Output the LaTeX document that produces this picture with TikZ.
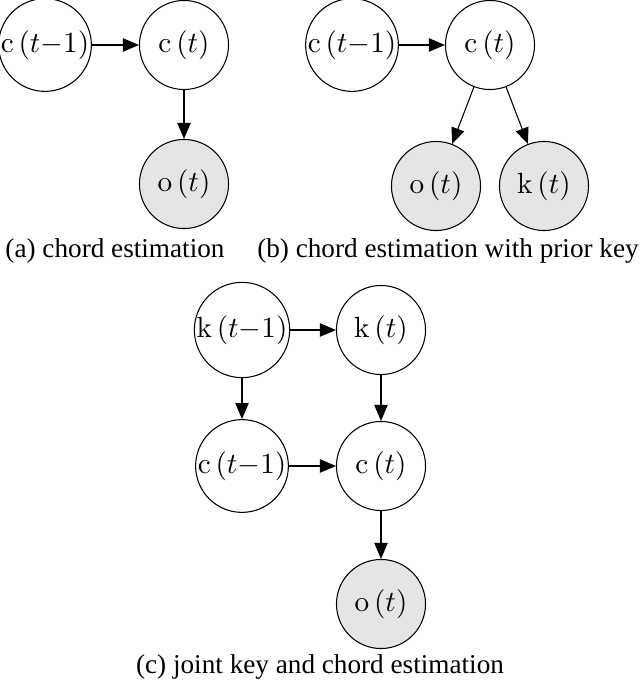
\documentclass[tikz,border=0pt]{standalone}
\usepackage[no-math]{fontspec}
\setmainfont{Liberation Serif}
\usetikzlibrary{arrows.meta}
\begin{document}
\begin{tikzpicture}[x=0.375pt,y=-0.375pt,
  var/.style={circle,draw,line width=0.4pt,minimum size=33.4pt,inner sep=0pt,font=\fontsize{11.2}{13}\selectfont},
  obs/.style={var,fill=black!10},
  edge/.style={line width=0.4pt,-{Triangle[length=6pt,width=5pt]}},
  captext/.style={font=\fontsize{10.2}{12}\selectfont,inner sep=0pt}]
\useasboundingbox (0,0) rectangle (640,686);
% (a)
\node[var] (a1) at (45,45) {$\mathrm{c}\,(t{-}1)$};
\node[var] (a2) at (184,45) {$\mathrm{c}\,(t)$};
\node[obs] (a3) at (184,184) {$\mathrm{o}\,(t)$};
\draw[edge] (a1) -- (a2);
\draw[edge] (a2) -- (a3);
\node[captext] (acap) at (115,251) {(a) chord estimation};
% (b)
\node[var] (b1) at (352,45) {$\mathrm{c}\,(t{-}1)$};
\node[var] (b2) at (490,45) {$\mathrm{c}\,(t)$};
\node[obs] (b3) at (436,186) {$\mathrm{o}\,(t)$};
\node[obs] (b4) at (544,186) {$\mathrm{k}\,(t)$};
\draw[edge] (b1) -- (b2);
\draw[edge] (b2) -- (b3);
\draw[edge] (b2) -- (b4);
\node[captext] (bcap) at (448,251) {(b) chord estimation with prior key};
% (c)
\node[var] (c1) at (242,330) {$\mathrm{k}\,(t{-}1)$};
\node[var] (c2) at (381,330) {$\mathrm{k}\,(t)$};
\node[var] (c3) at (242,466) {$\mathrm{c}\,(t{-}1)$};
\node[var] (c4) at (381,466) {$\mathrm{c}\,(t)$};
\node[obs] (c5) at (381,604) {$\mathrm{o}\,(t)$};
\draw[edge] (c1) -- (c2);
\draw[edge] (c1) -- (c3);
\draw[edge] (c2) -- (c4);
\draw[edge] (c3) -- (c4);
\draw[edge] (c4) -- (c5);
\node[captext] (ccap) at (320,667) {(c) joint key and chord estimation};
\end{tikzpicture}
\end{document}
